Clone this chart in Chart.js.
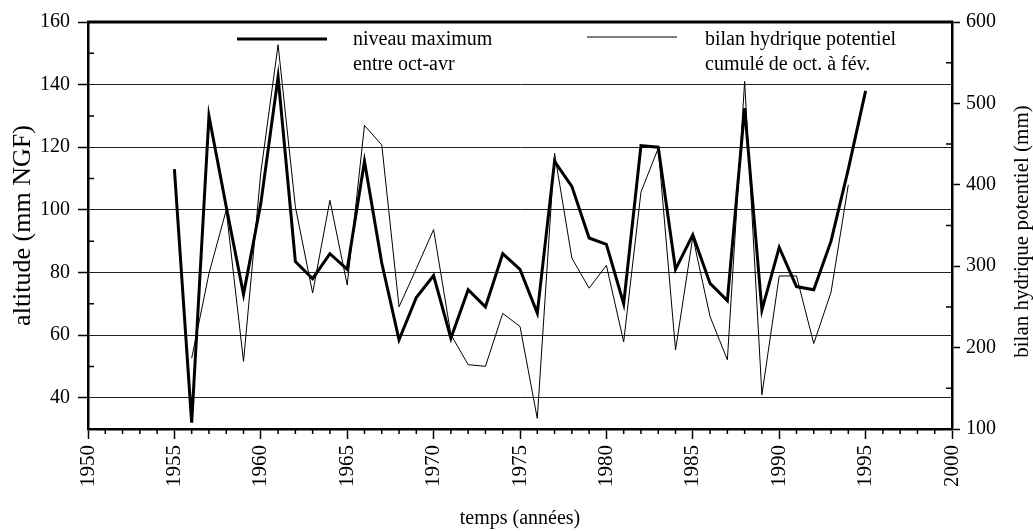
<!DOCTYPE html>
<html>
<head>
<meta charset="utf-8">
<script src="https://cdn.jsdelivr.net/npm/chart.js@4.4.1/dist/chart.umd.min.js"></script>
<style>
  html, body { margin: 0; padding: 0; background: #fff; }
  #wrap { width: 1033px; height: 531px; }
</style>
</head>
<body>
<div id="wrap"><canvas id="chart" width="1033" height="531"></canvas></div>
<script>
// years 1955..1995
const years = [1955,1956,1957,1958,1959,1960,1961,1962,1963,1964,1965,1966,1967,1968,1969,1970,
  1971,1972,1973,1974,1975,1976,1977,1978,1979,1980,1981,1982,1983,1984,1985,1986,1987,1988,
  1989,1990,1991,1992,1993,1994,1995];

// niveau maximum entre oct-avr (left axis, mm NGF)
const niveauMax = [113,32,130,101,73,102,142.5,83.5,78,86,81,115.5,83,58.5,72,79,
  59,74.5,69,86,81,67,115.5,107.5,91,89,70,120.5,120,81,92,76.5,71,132.5,
  68,88,75.5,74.5,90,113,138];

// bilan hydrique potentiel cumulé de oct. à fév. (right axis, mm) - no value for 1955 or 1995
const bilanHydrique = [null,187,291,369,183,415,572,373,267,381,277,473,449,250,297,345,
  216,179,177,242,226,113,439,310,273,301,207,391,445,197,336,238,185,527,
  142,288,288,205,268,400,null];

const xTicks = [1950,1955,1960,1965,1970,1975,1980,1985,1990,1995,2000];
const xMinor = [];
for (let y = 1951; y < 2000; y++) if (y % 5 !== 0) xMinor.push(y);
const leftTicks = [40,60,80,100,120,140,160];
const leftMinor = [50,70,90,110,130,150];
const rightTicks = [100,200,300,400,500,600];
const rightMinor = [150,250,350,450,550];

const serif = '"Liberation Serif", "Times New Roman", serif';
const tickFont = { family: serif, size: 20 };

const decor = {
  id: 'decor',
  afterDraw(chart) {
    const ctx = chart.ctx;
    const a = chart.chartArea;
    const sx = chart.scales.x, sy = chart.scales.y, sr = chart.scales.y1;
    ctx.save();
    ctx.strokeStyle = '#000';
    // top frame
    ctx.lineWidth = 3;
    ctx.beginPath();
    ctx.moveTo(a.left - 1, a.top);
    ctx.lineTo(a.right + 1, a.top);
    ctx.stroke();
    // minor ticks
    ctx.lineWidth = 1.5;
    ctx.beginPath();
    xMinor.forEach(v => {
      const px = sx.getPixelForValue(v);
      ctx.moveTo(px, a.bottom);
      ctx.lineTo(px, a.bottom + 5);
    });
    leftMinor.forEach(v => {
      const py = sy.getPixelForValue(v);
      ctx.moveTo(a.left, py);
      ctx.lineTo(a.left + 6, py);
    });
    rightMinor.forEach(v => {
      const py = sr.getPixelForValue(v);
      ctx.moveTo(a.right, py);
      ctx.lineTo(a.right - 6, py);
    });
    ctx.stroke();

    // legend
    const ds = chart.data.datasets;
    ctx.fillStyle = '#000';
    ctx.font = '20px ' + serif;
    ctx.textBaseline = 'alphabetic';
    ctx.lineWidth = ds[0].borderWidth;
    ctx.beginPath(); ctx.moveTo(237, 39); ctx.lineTo(327, 39); ctx.stroke();
    ctx.fillText('niveau maximum', 353, 45);
    ctx.fillText('entre oct-avr', 353, 70);
    ctx.lineWidth = ds[1].borderWidth;
    ctx.beginPath(); ctx.moveTo(587, 37); ctx.lineTo(677, 37); ctx.stroke();
    ctx.fillText('bilan hydrique potentiel', 705, 45);
    ctx.fillText('cumulé de oct. à fév.', 705, 70);

    // right axis title, reading bottom to top
    ctx.translate(1022, (a.top + a.bottom) / 2 + 6);
    ctx.rotate(-Math.PI / 2);
    ctx.font = '21px ' + serif;
    ctx.textAlign = 'center';
    ctx.textBaseline = 'middle';
    ctx.fillText('bilan hydrique potentiel (mm)', 0, 0);
    ctx.restore();
  }
};

new Chart(document.getElementById('chart'), {
  type: 'line',
  data: {
    datasets: [
      {
        label: 'niveau maximum entre oct-avr',
        data: years.map((y, i) => ({ x: y, y: niveauMax[i] })),
        yAxisID: 'y',
        borderColor: '#000',
        borderWidth: 3,
        pointRadius: 0,
        tension: 0
      },
      {
        label: 'bilan hydrique potentiel cumulé de oct. à fév.',
        data: years.map((y, i) => ({ x: y, y: bilanHydrique[i] })),
        yAxisID: 'y1',
        borderColor: '#000',
        borderWidth: 1,
        pointRadius: 0,
        tension: 0
      }
    ]
  },
  options: {
    responsive: false,
    animation: false,
    layout: { padding: { top: 22, left: 0, right: 0, bottom: 0 } },
    plugins: { legend: { display: false }, tooltip: { enabled: false } },
    scales: {
      x: {
        type: 'linear',
        position: 'bottom',
        min: 1950,
        max: 2000,
        afterBuildTicks: s => { s.ticks = xTicks.map(v => ({ value: v })); },
        afterFit: s => { s.height = 102; },
        grid: { drawOnChartArea: false, tickLength: 10, tickColor: '#000', tickWidth: 1.5 },
        border: { color: '#000', width: 2.5 },
        ticks: {
          minRotation: 90, maxRotation: 90, autoSkip: false, padding: 6, color: '#000', font: { family: serif, size: 21 },
          callback: v => String(v)
        },
        title: { display: true, text: 'temps (années)', color: '#000', font: { family: serif, size: 20 }, padding: 0 }
      },
      y: {
        type: 'linear',
        position: 'left',
        min: 30,
        max: 160,
        afterBuildTicks: s => { s.ticks = leftTicks.map(v => ({ value: v })); },
        afterFit: s => { s.width = 88; },
        grid: { color: '#222', lineWidth: 1, tickLength: 10, tickColor: '#000', tickWidth: 1.5 },
        border: { color: '#000', width: 2.5 },
        ticks: { padding: 8, color: '#000', font: tickFont },
        title: { display: true, text: 'altitude (mm NGF)', color: '#000', font: { family: serif, size: 26 }, padding: { top: 8, bottom: 0 } }
      },
      y1: {
        type: 'linear',
        position: 'right',
        min: 100,
        max: 600,
        afterBuildTicks: s => { s.ticks = rightTicks.map(v => ({ value: v })); },
        afterFit: s => { s.width = 81; },
        grid: { drawOnChartArea: false, tickLength: 8, tickColor: '#000', tickWidth: 1.5 },
        border: { color: '#000', width: 2.5 },
        ticks: { padding: 6, color: '#000', font: tickFont },
        title: { display: false }
      }
    }
  },
  plugins: [decor]
});
</script>
</body>
</html>
